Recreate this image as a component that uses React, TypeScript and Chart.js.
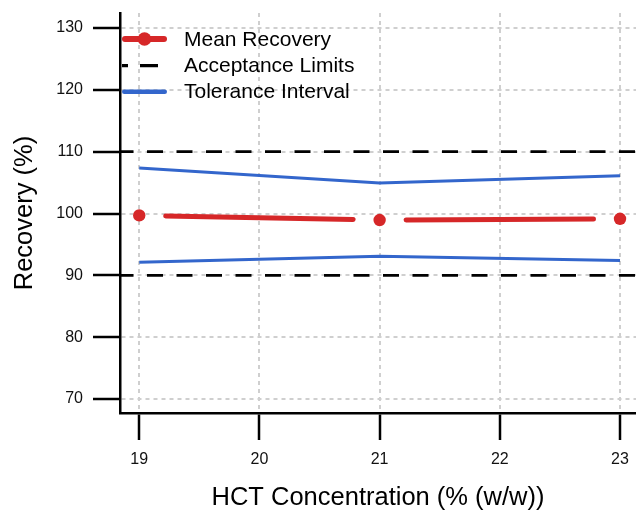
import React, { useEffect, useRef } from 'react';
import { Chart, registerables } from 'chart.js';

Chart.register(...registerables);

// ---- data ----
const concentrations = [19, 21, 23];
const meanRecovery = [99.7, 98.95, 99.15];
const toleranceUpper = [107.35, 104.95, 106.1];
const toleranceLower = [92.1, 93.1, 92.4];
const acceptanceLimits = [110, 90];
const xTicks = [19, 20, 21, 22, 23];
const yTicks = [70, 80, 90, 100, 110, 120, 130];
const xRange = [18.84, 23.133];
const yRange = [67.74, 132.43];
const legendLabels = ['Mean Recovery', 'Acceptance Limits', 'Tolerance Interval'];
const xTitle = 'HCT Concentration (% (w/w))';
const yTitle = 'Recovery (%)';

// ---- style ----
const FONT = '"Liberation Sans", Arial, Helvetica, sans-serif';
const RED = '#d62728';
const BLUE = '#3366cc';
const GRID = '#cfcfcf';

const MEAN_INDEX = 0;

const gapLinePlugin = {
  id: 'gapLine',
  afterDatasetsDraw(chart: any) {
    const meta = chart.getDatasetMeta(MEAN_INDEX);
    const pts = meta.data;
    const ctx = chart.ctx;
    const lw = 5;
    const gap = 24 + lw / 2;
    ctx.save();
    ctx.strokeStyle = RED;
    ctx.lineWidth = lw;
    ctx.lineCap = 'round';
    for (let i = 0; i < pts.length - 1; i++) {
      const a = pts[i];
      const b = pts[i + 1];
      const dx = b.x - a.x;
      const dy = b.y - a.y;
      const len = Math.hypot(dx, dy);
      if (len <= gap * 2) continue;
      const ux = dx / len;
      const uy = dy / len;
      ctx.beginPath();
      ctx.moveTo(a.x + ux * gap, a.y + uy * gap);
      ctx.lineTo(b.x - ux * gap, b.y - uy * gap);
      ctx.stroke();
    }
    ctx.restore();
  },
};

const legendPlugin = {
  id: 'customLegend',
  afterDraw(chart: any) {
    const { ctx, chartArea } = chart;
    const x0 = chartArea.left + 2;
    const x1 = chartArea.left + 47;
    const rows = [chartArea.top + 26, chartArea.top + 52.7, chartArea.top + 78.7];
    const textX = chartArea.left + 64;
    ctx.save();
    // Mean Recovery
    ctx.strokeStyle = RED;
    ctx.lineWidth = 6;
    ctx.lineCap = 'round';
    ctx.beginPath();
    ctx.moveTo(x0 + 3, rows[0]);
    ctx.lineTo(x1 - 3, rows[0]);
    ctx.stroke();
    ctx.fillStyle = RED;
    ctx.beginPath();
    ctx.arc((x0 + x1) / 2, rows[0], 6.8, 0, Math.PI * 2);
    ctx.fill();
    // Acceptance Limits
    ctx.strokeStyle = '#000';
    ctx.lineWidth = 3.3;
    ctx.lineCap = 'butt';
    ctx.setLineDash([18, 12]);
    ctx.lineDashOffset = 12;
    ctx.beginPath();
    ctx.moveTo(x0, rows[1]);
    ctx.lineTo(x1, rows[1]);
    ctx.stroke();
    ctx.setLineDash([]);
    // Tolerance Interval
    ctx.strokeStyle = BLUE;
    ctx.lineWidth = 4.5;
    ctx.lineCap = 'round';
    ctx.beginPath();
    ctx.moveTo(x0 + 2.25, rows[2]);
    ctx.lineTo(x1 - 2.25, rows[2]);
    ctx.stroke();
    // texts
    ctx.fillStyle = '#000';
    ctx.font = `21px ${FONT}`;
    ctx.textAlign = 'left';
    ctx.textBaseline = 'middle';
    legendLabels.forEach((t, i) => ctx.fillText(t, textX, rows[i] + 1));
    ctx.restore();
  },
};

const zeroPad = (s: any) => {
  s.paddingLeft = 0;
  s.paddingRight = 0;
  s.paddingTop = 0;
  s.paddingBottom = 0;
};

export default function App() {
  const ref = useRef<HTMLCanvasElement | null>(null);

  useEffect(() => {
    document.body.style.margin = '0';
    const canvas = ref.current;
    if (!canvas) return;
    const toXY = (ys: number[]) => concentrations.map((x, i) => ({ x, y: ys[i] }));

    const datasets: any[] = [
      {
        label: legendLabels[0],
        data: toXY(meanRecovery),
        showLine: false,
        pointRadius: 6.2,
        pointBackgroundColor: RED,
        pointBorderWidth: 0,
        borderColor: RED,
      },
      {
        label: legendLabels[2] + ' upper',
        data: toXY(toleranceUpper),
        borderColor: BLUE,
        borderWidth: 3,
        pointRadius: 0,
        tension: 0,
      },
      {
        label: legendLabels[2] + ' lower',
        data: toXY(toleranceLower),
        borderColor: BLUE,
        borderWidth: 3,
        pointRadius: 0,
        tension: 0,
      },
      ...acceptanceLimits.map((lim) => ({
        label: legendLabels[1],
        data: [
          { x: xRange[0], y: lim },
          { x: xRange[1], y: lim },
        ],
        borderColor: '#000',
        borderWidth: 2.8,
        borderDash: [16, 13.5],
        borderDashOffset: 2.5,
        pointRadius: 0,
      })),
    ];

    const tickFont = { family: FONT, size: 16 };
    const titleFont = { family: FONT, size: 25.5, lineHeight: 1 };

    const chart = new Chart(canvas, {
      type: 'line',
      data: { datasets },
      options: {
        animation: false,
        responsive: false,
        events: [],
        layout: { autoPadding: false, padding: { top: 13, left: 0, right: 0, bottom: 0 } },
        plugins: {
          legend: { display: false },
          tooltip: { enabled: false },
        },
        scales: {
          x: {
            type: 'linear',
            min: xRange[0],
            max: xRange[1],
            afterFit: (s: any) => {
              s.height = 98;
              zeroPad(s);
            },
            afterBuildTicks: (s: any) => {
              s.ticks = xTicks.map((v) => ({ value: v }));
            },
            grid: {
              color: GRID,
              lineWidth: 2,
              tickColor: '#000',
              tickWidth: 2.5,
              tickLength: 27,
              tickBorderDash: [],
            },
            border: { display: true, color: '#000', width: 2.5, dash: [4, 4] },
            ticks: {
              autoSkip: false,
              maxRotation: 0,
              padding: 10,
              color: '#111',
              font: tickFont,
            },
            title: {
              display: true,
              text: xTitle,
              color: '#000',
              font: titleFont,
              padding: { top: 0, bottom: 0 },
            },
          },
          y: {
            type: 'linear',
            min: yRange[0],
            max: yRange[1],
            afterFit: (s: any) => {
              s.width = 120;
              zeroPad(s);
            },
            afterBuildTicks: (s: any) => {
              s.ticks = yTicks.map((v) => ({ value: v }));
            },
            grid: {
              color: GRID,
              lineWidth: 2,
              tickColor: '#000',
              tickWidth: 2.5,
              tickLength: 27,
              tickBorderDash: [],
            },
            border: { display: true, color: '#000', width: 2.5, dash: [4, 4] },
            ticks: {
              autoSkip: false,
              padding: 10,
              color: '#111',
              font: tickFont,
            },
            title: {
              display: true,
              text: yTitle,
              color: '#000',
              font: titleFont,
              padding: { top: 12, bottom: 0 },
            },
          },
        },
      } as any,
      plugins: [gapLinePlugin, legendPlugin],
    });

    return () => {
      chart.destroy();
    };
  }, []);

  return (
    <div style={{ position: 'absolute', left: 0, top: 0, width: 636, height: 511 }}>
      <canvas ref={ref} width={636} height={511} style={{ display: 'block' }} />
    </div>
  );
}
